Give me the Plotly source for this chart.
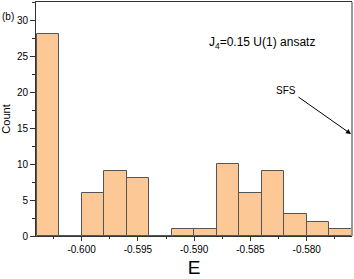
import numpy as np
import plotly.graph_objects as go

# Histogram data (bin left edges, width, counts)
bin_left = [-0.6040, -0.6020, -0.6000, -0.5980, -0.5960, -0.5940, -0.5920,
            -0.5900, -0.5880, -0.5860, -0.5840, -0.5820, -0.5800, -0.5780]
bin_width = 0.0020
counts = [28, 0, 6, 9, 8, 0, 1, 1, 10, 6, 9, 3, 2, 1]

x_tickvals = [-0.600, -0.595, -0.590, -0.585, -0.580]
x_ticktext = ["-0.600", "-0.595", "-0.590", "-0.585", "-0.580"]
y_tickvals = [0, 5, 10, 15, 20, 25, 30]

centers = np.array(bin_left) + bin_width / 2

fig = go.Figure()
fig.add_trace(go.Bar(
    x=centers, y=counts, width=[bin_width] * len(counts),
    marker=dict(color="#FBC896", line=dict(color="#555555", width=1)),
    showlegend=False,
))

font = "Liberation Sans, Arial, sans-serif"
fig.update_layout(
    width=354, height=279,
    margin=dict(l=36, r=2, t=2, b=43, autoexpand=False),
    paper_bgcolor="white", plot_bgcolor="white",
    font=dict(family=font, color="black", size=10),
    bargap=0,
    xaxis=dict(
        range=[-0.60405, -0.57598],
        tickvals=x_tickvals, ticktext=x_ticktext,
        ticks="outside", ticklen=4, tickcolor="#333", tickwidth=1,
        minor=dict(dtick=0.0025, tick0=-0.6, ticks="outside", ticklen=2, tickcolor="#333"),
        showline=True, linecolor="#333", linewidth=1, mirror=True,
        showgrid=False, zeroline=False, automargin=False,
        title=dict(text="E", font=dict(size=19, family=font), standoff=6),
        tickfont=dict(size=10, family=font),
    ),
    yaxis=dict(
        range=[0, 32.5],
        tickvals=y_tickvals,
        ticks="outside", ticklen=5, tickcolor="#333", tickwidth=1,
        minor=dict(dtick=2.5, ticks="outside", ticklen=3, tickcolor="#333"),
        showline=True, linecolor="#333", linewidth=1,
        showgrid=False, zeroline=False, automargin=False,
        title=dict(text="Count", font=dict(size=11, family=font), standoff=4),
        tickfont=dict(size=10, family=font),
    ),
)

# gray right border
fig.add_shape(type="line", xref="paper", yref="paper", x0=1, x1=1, y0=0, y1=1,
              line=dict(color="#999999", width=2))

fig.add_annotation(text="(b)", xref="paper", yref="paper", x=-0.09, y=0.94,
                   xanchor="center", yanchor="middle", showarrow=False,
                   font=dict(size=10, family=font))
fig.add_annotation(text="J<sub>4</sub>=0.15 U(1) ansatz", xref="paper", yref="paper",
                   x=(262 - 36) / 316, y=(236 - 43) / 234, xanchor="center", yanchor="middle",
                   showarrow=False, font=dict(size=12, family=font))
fig.add_annotation(text="SFS", xref="paper", yref="paper",
                   x=(286 - 36) / 316, y=(236 - 90) / 234, xanchor="center", yanchor="middle",
                   showarrow=False, font=dict(size=10, family=font))
fig.add_annotation(text="", xref="paper", yref="paper",
                   x=(351 - 36) / 316, y=(236 - 134) / 234,
                   ax=-54, ay=-38,
                   showarrow=True, arrowhead=2, arrowsize=1, arrowwidth=1, arrowcolor="black")

fig.write_html("out.html", config={"displayModeBar": False},
               post_script="document.body.style.margin='0';document.body.style.overflow='hidden';")
